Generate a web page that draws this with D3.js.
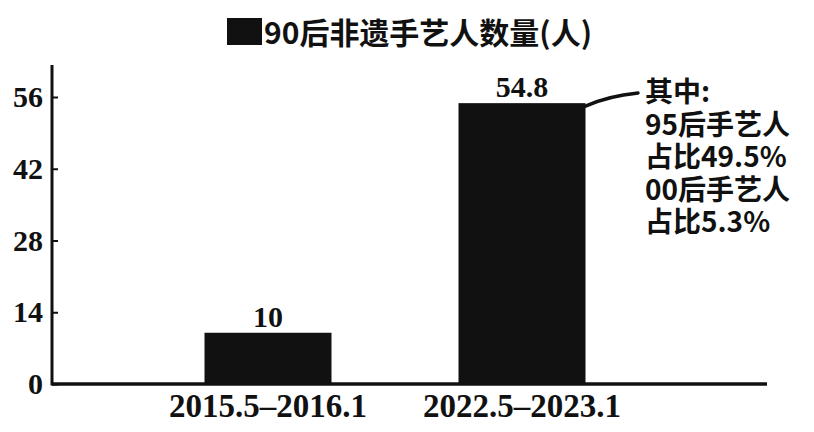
<!DOCTYPE html>
<html>
<head>
<meta charset="utf-8">
<script src="https://cdn.jsdelivr.net/npm/d3@7"></script>
<style>
  body { margin: 0; background: #fff; }
  svg { display: block; }
</style>
</head>
<body>
<div id="chart"></div>
<script>
// data
let categories = ["2015.5\u20132016.1", "2022.5\u20132023.1"];
let values = [10, 54.8];
let yTicks = [0, 14, 28, 42, 56];
let titleText = "90后非遗手艺人数量(人)";
let noteLines = ["其中:", "95后手艺人", "占比49.5%", "00后手艺人", "占比5.3%"];

let width = 814, height = 432;
let axisX = 52;

let svg = d3.select("#chart").append("svg")
    .attr("width", width)
    .attr("height", height);

let x = d3.scaleBand()
    .domain(categories)
    .range([141, 649])
    .paddingInner(0.5)
    .paddingOuter(0.25);

let y = d3.scaleLinear()
    .domain([0, 56])
    .range([384, 97]);

let serif = "'Liberation Serif', 'DejaVu Serif', serif";
let cjk = "'Noto Sans CJK SC', sans-serif";

//title
svg.append("rect")
    .attr("x", 227).attr("y", 18)
    .attr("width", 35).attr("height", 27)
    .attr("fill", "#111");
svg.append("text")
    .attr("x", 264).attr("y", 44)
    .attr("font-family", cjk)
    .attr("font-weight", "bold")
    .attr("font-size", 30)
    .attr("textLength", 328)
    .attr("fill", "#111")
    .text(titleText);

//bars
svg.append("g")
    .selectAll("rect")
    .data(values)
    .enter().append("rect")
    .attr("x", function(d, i) { return x(categories[i]); })
    .attr("y", function(d) { return y(d); })
    .attr("width", x.bandwidth())
    .attr("height", function(d) { return y(0) - y(d); })
    .attr("fill", "#111");

//value labels
svg.append("g")
    .selectAll("text")
    .data(values)
    .enter().append("text")
    .attr("x", function(d, i) { return x(categories[i]) + x.bandwidth() / 2; })
    .attr("y", function(d) { return y(d) - 6; })
    .attr("text-anchor", "middle")
    .attr("font-family", serif)
    .attr("font-weight", "bold")
    .attr("font-size", 30)
    .attr("fill", "#111")
    .text(function(d) { return d; });

//axes
let yAxis = d3.axisLeft(y).tickValues(yTicks).tickSize(-6).tickPadding(9);
let gy = svg.append("g")
    .attr("transform", "translate(" + axisX + ",0)")
    .call(yAxis);
gy.select(".domain").remove();
gy.selectAll(".tick line")
    .attr("stroke", "#111").attr("stroke-width", 2);
gy.selectAll("text")
    .attr("font-family", serif)
    .attr("font-weight", "bold")
    .attr("font-size", 30)
    .attr("fill", "#111");

svg.append("line")
    .attr("x1", axisX).attr("x2", axisX)
    .attr("y1", 65).attr("y2", y(0) + 1.5)
    .attr("stroke", "#111").attr("stroke-width", 3);

let xAxis = d3.axisBottom(x).tickSize(0).tickPadding(10);
let gx = svg.append("g")
    .attr("transform", "translate(0," + y(0) + ")")
    .call(xAxis);
gx.select(".domain").remove();
gx.selectAll("text")
    .attr("font-family", serif)
    .attr("font-weight", "bold")
    .attr("font-size", 33)
    .attr("fill", "#111");

svg.append("line")
    .attr("x1", axisX).attr("x2", 767)
    .attr("y1", y(0)).attr("y2", y(0))
    .attr("stroke", "#111").attr("stroke-width", 3.5);

//annotation
let barRight = x(categories[1]) + x.bandwidth();
svg.append("path")
    .attr("d", "M" + barRight + "," + (y(values[1]) + 3) + " Q608,96 638,93")
    .attr("fill", "none")
    .attr("stroke", "#111")
    .attr("stroke-width", 3.5)
    .attr("stroke-linecap", "round");

svg.append("g")
    .selectAll("text")
    .data(noteLines)
    .enter().append("text")
    .attr("x", 645)
    .attr("y", function(d, i) { return 102 + i * 32.5; })
    .attr("font-family", cjk)
    .attr("font-weight", "bold")
    .attr("font-size", 28)
    .attr("fill", "#111")
    .text(function(d) { return d; });
</script>
</body>
</html>
